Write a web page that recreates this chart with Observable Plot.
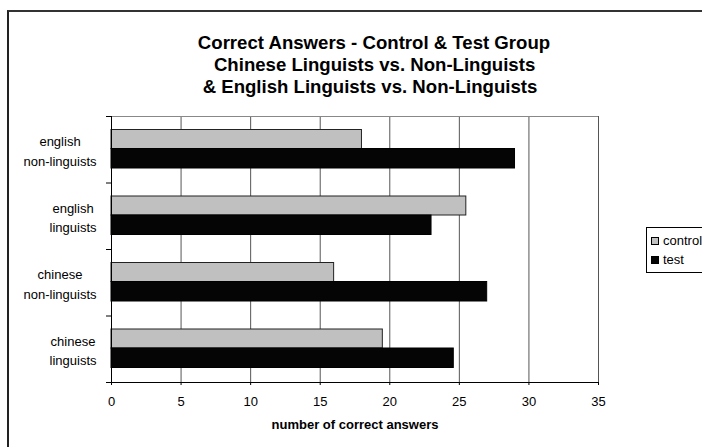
<!DOCTYPE html>
<html><head><meta charset="utf-8">
<script src="https://cdn.jsdelivr.net/npm/d3@7"></script>
<script src="https://cdn.jsdelivr.net/npm/@observablehq/plot@0.6"></script>
<style>
body{margin:0;background:#fff;font-family:"Liberation Sans",Arial,sans-serif;}
#wrap{position:relative;width:702px;height:447px;overflow:hidden;background:#fff;}
#chart{position:absolute;left:0;top:0;}
#frame{position:absolute;left:7px;top:10px;width:800px;height:600px;border-left:2px solid #222;border-top:2px solid #333;pointer-events:none;}
#title{position:absolute;left:0;width:748px;top:32px;text-align:center;font-weight:bold;font-size:18.6px;line-height:22px;white-space:pre;color:#000;}
#title div{position:relative;}
#legend{position:absolute;left:646px;top:227px;width:80px;height:44px;border:1px solid #000;background:#fff;font-size:13px;color:#000;}
#legend .row{position:absolute;left:4px;height:16px;line-height:16px;white-space:nowrap;}
#legend .sw{display:inline-block;width:8px;height:8px;vertical-align:middle;margin-right:4px;box-sizing:border-box;border:1px solid #000;position:relative;top:-1px;}
</style>
</head><body>
<div id="wrap">
  <div id="chart"></div>
  <div id="title"></div>
  <div id="legend"></div>
  <div id="frame"></div>
</div>
<script>
const titleLines = ["Correct Answers - Control & Test Group", " Chinese Linguists vs. Non-Linguists", "& English Linguists vs. Non-Linguists"];
const titleShift = [0, -2, -4];
const categories = ["chinese\nlinguists", "chinese\nnon-linguists", "english\nlinguists", "english\nnon-linguists"];
const seriesNames = ["control", "test"];
const seriesColors = ["#c0c0c0", "#050505"];
const controlValues = [19.5, 16, 25.5, 18];
const testValues = [24.6, 27, 23, 29];
const xTicks = [0, 5, 10, 15, 20, 25, 30, 35];
const xLabel = "number of correct answers";

// title
const t = document.getElementById("title");
titleLines.forEach((s, i) => { const d = document.createElement("div"); d.textContent = s; d.style.left = titleShift[i] + "px"; t.appendChild(d); });

// legend
const lg = document.getElementById("legend");
seriesNames.forEach((s, i) => {
  const r = document.createElement("div"); r.className = "row"; r.style.top = (5 + i * 19) + "px";
  const sw = document.createElement("span"); sw.className = "sw"; sw.style.background = seriesColors[i];
  r.appendChild(sw); r.appendChild(document.createTextNode(s)); lg.appendChild(r);
});

const rows = categories.flatMap((c, i) => [
  {cat: c, idx: i, series: seriesNames[0], value: controlValues[i]},
  {cat: c, idx: i, series: seriesNames[1], value: testValues[i]}
]);
const ctl = rows.filter(d => d.series === seriesNames[0]);
const tst = rows.filter(d => d.series === seriesNames[1]);

const ctx = document.createElement("canvas").getContext("2d");
ctx.font = "13px 'Liberation Sans'";
const labelMarks = categories.map((c, i) => {
  const w = Math.max(...c.split("\n").map(s => ctx.measureText(s).width));
  return Plot.text([c], {x: 0, y: i + 0.5, text: d => d, textAnchor: "middle", dx: -(15 + w / 2), lineHeight: 1.5, fontSize: 13, fill: "#000"});
});

const plot = Plot.plot({
  width: 702, height: 447,
  marginLeft: 111, marginRight: 104, marginTop: 116, marginBottom: 65,
  style: {fontFamily: "'Liberation Sans', Arial, sans-serif", fontSize: "13px", background: "transparent", color: "#000"},
  x: {domain: [0, 35], label: null},
  y: {domain: [0, 4], label: null},
  marks: [
    Plot.ruleX(xTicks.slice(1), {stroke: "#555", strokeWidth: 1}),
    Plot.ruleY([4], {stroke: "#888"}),
    Plot.rect(ctl, {x1: 0, x2: "value", y1: "idx", y2: d => d.idx + 1, fill: seriesColors[0], stroke: "#222", strokeWidth: 1, insetTop: 13.5, insetBottom: 34}),
    Plot.rect(tst, {x1: 0, x2: "value", y1: "idx", y2: d => d.idx + 1, fill: seriesColors[1], stroke: "#000", strokeWidth: 1, insetTop: 32.5, insetBottom: 14.5}),
    Plot.ruleY([0], {stroke: "#000"}),
    Plot.ruleX([0], {stroke: "#000"}),
    Plot.axisY([0, 1, 2, 3, 4], {tickSize: 5, tickFormat: () => "", label: null, stroke: "#000"}),
    Plot.axisX(xTicks, {tickSize: 3, tickPadding: 11, fontSize: 13, label: null, stroke: "#000"}),
    ...labelMarks,
    Plot.text([xLabel], {frameAnchor: "bottom", dy: 46, fontWeight: "bold", fontSize: 13, fill: "#000"})
  ]
});
document.getElementById("chart").appendChild(plot);
</script>
</body></html>
